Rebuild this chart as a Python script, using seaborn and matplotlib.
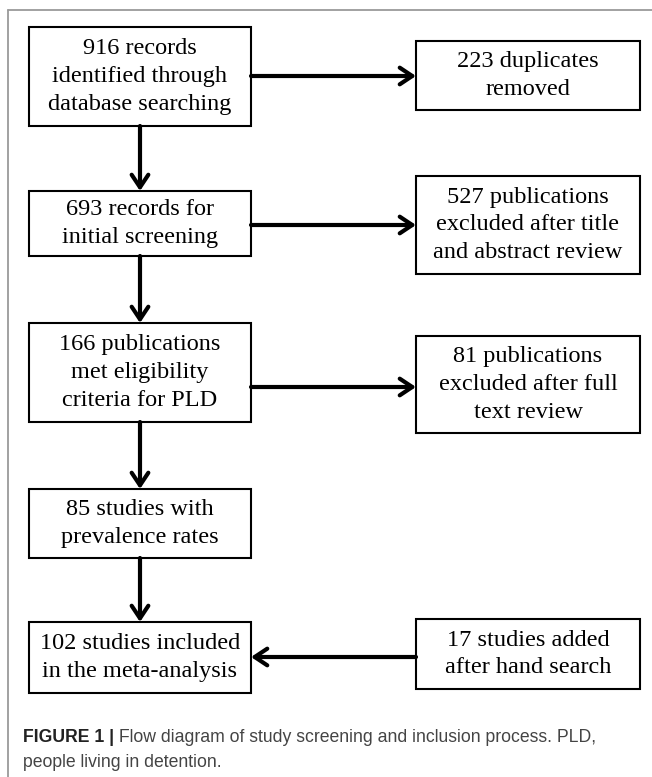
import matplotlib
matplotlib.use("Agg")
import matplotlib.pyplot as plt
import seaborn as sns
from matplotlib.patches import Rectangle

sns.set_theme(style="white")
plt.rcParams["font.family"] = ["Liberation Serif", "DejaVu Serif"]

# --- diagram content ---
main_steps = [
    "916 records\nidentified through\ndatabase searching",
    "693 records for\ninitial screening",
    "166 publications\nmet eligibility\ncriteria for PLD",
    "85 studies with\nprevalence rates",
    "102 studies included\nin the meta-analysis",
]
side_steps = [
    "223 duplicates\nremoved",
    "527 publications\nexcluded after title\nand abstract review",
    "81 publications\nexcluded after full\ntext review",
    "17 studies added\nafter hand search",
]
side_direction = ["out", "out", "out", "in"]

caption_bold = "FIGURE 1 |"
caption_rest = " Flow diagram of study screening and inclusion process. PLD,"
caption_line2 = "people living in detention."

# --- layout (pixel units, y grows downward) ---
main_x = (29, 251)
side_x = (416, 640)
main_y = [(27, 126), (191, 256), (323, 422), (489, 558), (622, 693)]
side_y = [(41, 110), (176, 274), (336, 433), (619, 689)]
side_arrow_y = [76, 225, 387, 657]
arrow_x = 140

fig = plt.figure(figsize=(6.52, 7.77), dpi=100)
ax = fig.add_axes([0, 0, 1, 1])
ax.set_xlim(0, 652)
ax.set_ylim(777, 0)
ax.axis("off")

# outer frame (open at bottom and right)
ax.plot([8, 8], [777, 10], color="#9a9a9a", lw=1.3)
ax.plot([8, 652], [10, 10], color="#9a9a9a", lw=1.3)


def draw_box(x0, x1, y0, y1, label):
    ax.add_patch(Rectangle((x0, y0), x1 - x0, y1 - y0, fill=False,
                           edgecolor="black", lw=1.5))
    ax.text((x0 + x1) / 2, (y0 + y1) / 2, label, ha="center", va="center",
            fontsize=17.5, color="black", linespacing=1.43)


def draw_arrow(start, end):
    ax.annotate("", xy=end, xytext=start,
                arrowprops=dict(arrowstyle="->,head_length=0.45,head_width=0.3",
                                lw=3, color="black", shrinkA=0, shrinkB=0,
                                mutation_scale=20))


for label, (y0, y1) in zip(main_steps, main_y):
    draw_box(*main_x, y0, y1, label)

for label, (y0, y1) in zip(side_steps, side_y):
    draw_box(*side_x, y0, y1, label)

# vertical flow
for (a0, a1), (b0, b1) in zip(main_y[:-1], main_y[1:]):
    draw_arrow((arrow_x, a1), (arrow_x, b0))

# side arrows
for y, d in zip(side_arrow_y, side_direction):
    if d == "out":
        draw_arrow((main_x[1], y), (side_x[0], y))
    else:
        draw_arrow((side_x[0], y), (main_x[1], y))

# caption
cap_font = ["Liberation Sans", "DejaVu Sans"]
cap_size = 12.7
t1 = ax.text(23, 742, caption_bold, fontsize=cap_size, fontweight="bold",
             family=cap_font, color="#222222", va="baseline", ha="left")
fig.canvas.draw()
w = t1.get_window_extent(renderer=fig.canvas.get_renderer()).width
ax.text(23 + w, 742, caption_rest, fontsize=cap_size, family=cap_font,
        color="#444444", va="baseline", ha="left")
ax.text(23, 767, caption_line2, fontsize=cap_size, family=cap_font,
        color="#444444", va="baseline", ha="left")

fig.savefig("out.png", dpi=100, facecolor="white")
